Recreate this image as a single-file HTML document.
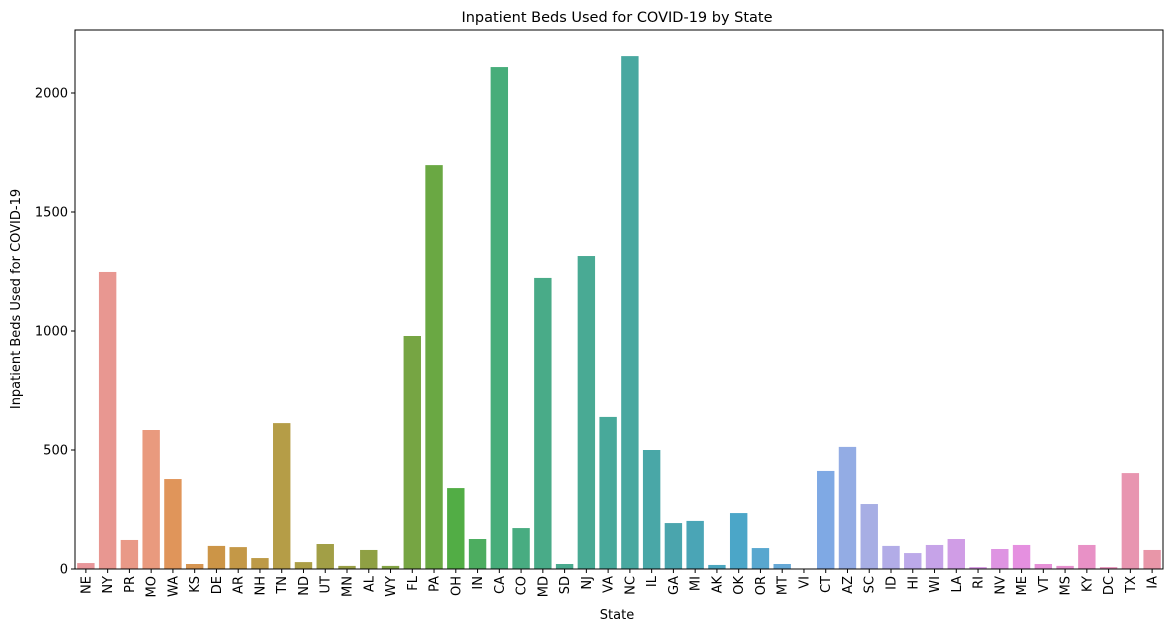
<!DOCTYPE html>
<html><head><meta charset="utf-8"><style>
body{margin:0;background:#fff;font-family:"Liberation Sans","DejaVu Sans",sans-serif;}
svg text{font-family:"DejaVu Sans","Liberation Sans",sans-serif;}
</style></head><body>
<svg id="chart" width="1169" height="631" xmlns="http://www.w3.org/2000/svg">
<text x="617" y="22" font-size="14.5" text-anchor="middle">Inpatient Beds Used for COVID-19 by State</text>
<text x="617" y="619" font-size="13" text-anchor="middle">State</text>
<text transform="translate(20,299) rotate(-90)" font-size="13" text-anchor="middle">Inpatient Beds Used for COVID-19</text>
<g id="bars"></g><g id="axes"></g>
</svg>
<script>
const states=["NE","NY","PR","MO","WA","KS","DE","AR","NH","TN","ND","UT","MN","AL","WY","FL","PA","OH","IN","CA","CO","MD","SD","NJ","VA","NC","IL","GA","MI","AK","OK","OR","MT","VI","CT","AZ","SC","ID","HI","WI","LA","RI","NV","ME","VT","MS","KY","DC","TX","IA"];
const beds=[25,1248,122,584,378,21,97,92,46,613,29,105,13,80,13,979,1697,340,126,2109,172,1223,21,1315,639,2155,500,193,202,17,235,88,21,0,412,513,273,97,67,101,126,8,84,101,21,13,101,8,403,80];
const yTicks=[0,500,1000,1500,2000];
const L=75,R=1163,T=30,B=569;
const NS="http://www.w3.org/2000/svg";
const yS=v=>B-v*(B-93)/2000;
const step=(R-L)/states.length;
const xS=i=>L+step*(i+0.5);
const anchors=[[0,[232,150,154]],[3,[233,154,126]],[4,[224,149,90]],[6,[204,149,71]],[9,[181,157,71]],[13,[143,160,68]],[16,[106,168,67]],[17,[82,173,69]],[19,[71,173,122]],[21,[73,171,136]],[25,[72,168,160]],[27,[74,165,173]],[30,[75,166,200]],[34,[127,169,228]],[36,[167,174,228]],[38,[188,169,233]],[40,[208,157,230]],[43,[229,144,224]],[46,[232,145,198]],[48,[232,149,176]],[49,[232,150,168]]];
function col(i){for(let k=0;k<anchors.length-1;k++){const[a,ca]=anchors[k],[b,cb]=anchors[k+1];if(i>=a&&i<=b){const t=(i-a)/(b-a);return`rgb(${ca.map((c,j)=>Math.round(c+(cb[j]-c)*t)).join(",")})`;}}return"rgb(232,150,168)";}
function mk(t,attrs,parent){const e=document.createElementNS(NS,t);for(const k in attrs)e.setAttribute(k,attrs[k]);parent.appendChild(e);return e;}
const bars=document.getElementById("bars"),axes=document.getElementById("axes");
const bw=step*0.8;
states.forEach((s,i)=>{
  const r=mk("rect",{x:xS(i)-bw/2,y:yS(beds[i]),width:bw,height:B-yS(beds[i]),fill:col(i)},bars);
  
  
  mk("line",{x1:xS(i),x2:xS(i),y1:B,y2:B+4,stroke:"#000"},axes);
  const tx=mk("text",{transform:`translate(${xS(i)+4.5},${B+7}) rotate(-90)`,"font-size":"13","text-anchor":"end"},axes);
  tx.textContent=s;
  
  
});
yTicks.forEach(v=>{
  mk("line",{x1:L-4,x2:L,y1:yS(v),y2:yS(v),stroke:"#000"},axes);
  const tx=mk("text",{x:L-7,y:yS(v)+4.5,"font-size":"13","text-anchor":"end"},axes);
  tx.textContent=v;
  
  
});
const fr=mk("rect",{x:L,y:T,width:R-L,height:B-T,fill:"none",stroke:"#000","stroke-width":"1"},axes);


</script>
</body></html>
